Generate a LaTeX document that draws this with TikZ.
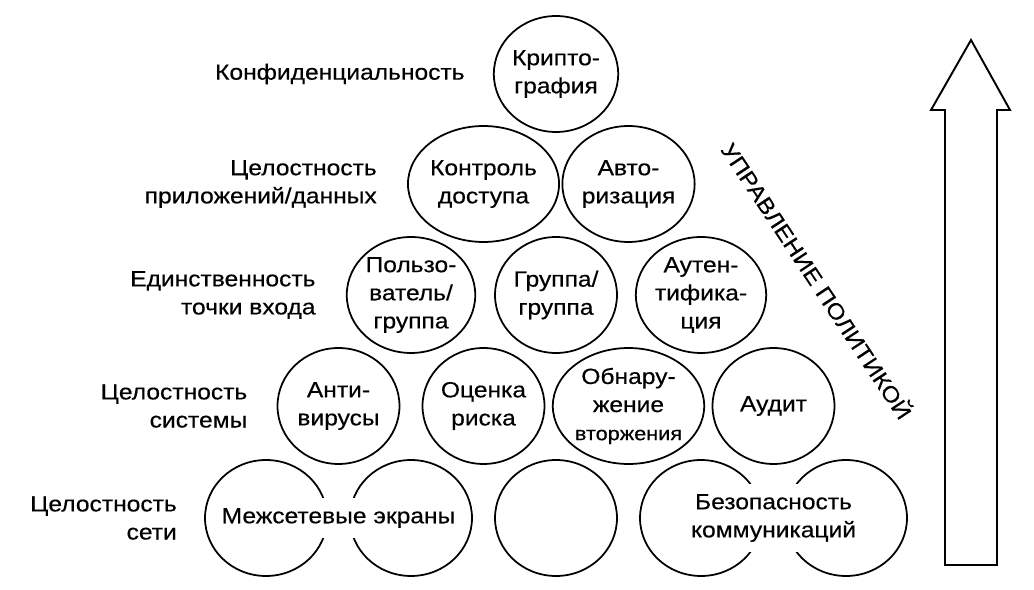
\documentclass[tikz,border=0pt]{standalone}
\usepackage{fontspec}
\setmainfont{Liberation Sans}[FakeStretch=1.12, FakeBold=0.4]
\usetikzlibrary{shapes.geometric, positioning, calc}

\begin{document}
\begin{tikzpicture}[
    x=0.02cm, y=-0.02cm,
    font=\fontsize{12.5}{16}\selectfont,
    circ/.style={ellipse, draw, line width=1pt, align=center, inner sep=0pt,
                 minimum width=2.44cm, minimum height=2.32cm},
    lbl/.style={align=right, inner sep=0pt},
    gap/.style={fill=white, align=center, inner xsep=1pt, inner ysep=0.2cm}
]
\useasboundingbox (0,0) rectangle (1034,590);

% pyramid, top to bottom
\node[circ] (crypt) at (556, 74) {Крипто-\\графия};

\node[circ] (acc)   at (483.5, 184) {Контроль\\доступа};
\node[circ] (authz) at (628.5, 184) {Авто-\\ризация};

\node[circ] (user)  at (411, 295) {Пользо-\\ватель/\\группа};
\node[circ] (group) at (556, 295) {Группа/\\группа};
\node[circ] (authn) at (701, 295) {Аутен-\\тифика-\\ция};

\node[circ] (av)    at (338.5, 406) {Анти-\\вирусы};
\node[circ] (risk)  at (483.5, 406) {Оценка\\риска};
\node[circ] (ids)   at (628.5, 406) {Обнару-\\жение\\{\fontsize{11}{14}\selectfont вторжения}};
\node[circ] (audit) at (773.5, 406) {Аудит};

\node[circ] (fwa)   at (266, 518) {};
\node[circ] (fwb)   at (411, 518) {};
\node[circ] (blank) at (556, 518) {};
\node[circ] (coma)  at (701, 518) {};
\node[circ] (comb)  at (846, 518) {};

% texts over two circles
\node[gap] (fw)  at ($(fwa)!0.5!(fwb)$) {Межсетевые экраны};
\node[gap] (com) at ($(coma)!0.5!(comb)$) {Безопасность\\коммуникаций};

% levels
\node[lbl, left=0.56cm of crypt] (conf)   {Конфиденциальность};
\node[lbl, left=0.6cm of acc]    (appint) {Целостность\\приложений/данных};
\node[lbl, left=0.6cm of user]   (sso)    {Единственность\\точки входа};
\node[lbl, left=0.58cm of av]    (sysint) {Целостность\\системы};
\node[lbl, left=0.54cm of fwa]   (netint) {Целостность\\сети};

% policy
\node[rotate=-56.5] (policy) at (818, 280) {УПРАВЛЕНИЕ ПОЛИТИКОЙ};
\draw[line width=1.1pt] (945,565) -- (945,110) -- (931,110) -- (971,40)
    -- (1010,110) -- (997,110) -- (997,565) -- cycle;
\end{tikzpicture}
\end{document}
